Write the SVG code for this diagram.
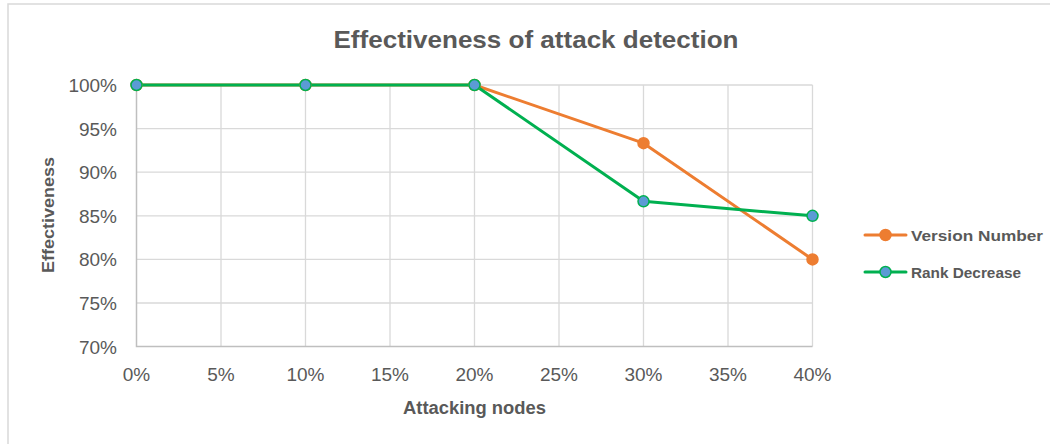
<svg xmlns="http://www.w3.org/2000/svg" width="1050" height="444" viewBox="0 0 1050 444">
  <style>
    .grid { stroke: #d9d9d9; stroke-width: 1.3; fill: none; }
    .axis { stroke: #bfbfbf; stroke-width: 1.5; fill: none; }
    .tick { font-family: "Liberation Sans", Arial, sans-serif; font-size: 19px; fill: #595959; }
    .ytick { text-anchor: end; }
    .xtick { text-anchor: middle; }
    .title { font-family: "Liberation Sans", Arial, sans-serif; font-weight: bold; fill: #595959; }
    .legend { font-family: "Liberation Sans", Arial, sans-serif; font-weight: bold; font-size: 15px; fill: #595959; }
    .s1 { stroke: #ed7d31; stroke-width: 3; fill: none; stroke-linejoin: round; stroke-linecap: round; }
    .s2 { stroke: #00b050; stroke-width: 3; fill: none; stroke-linejoin: round; stroke-linecap: round; }
    .m1 { fill: #ed7d31; stroke: #ed7d31; stroke-width: 1.5; }
    .m2 { fill: #5b9bd5; stroke: #00b050; stroke-width: 1.5; }
  </style>

  <!-- chart area -->
  <rect x="0" y="0" width="1050" height="444" fill="#ffffff"/>
  <rect x="8" y="4" width="1100" height="500" fill="none" stroke="#d9d9d9" stroke-width="1.5"/>

  <!-- title -->
  <text class="title" x="536" y="48" font-size="24" text-anchor="middle" textLength="405" lengthAdjust="spacingAndGlyphs">Effectiveness of attack detection</text>

  <!-- gridlines -->
  <g id="gridlines">
    <path class="grid" d="M136.5 85H812.5M136.5 128.6H812.5M136.5 172.2H812.5M136.5 215.8H812.5M136.5 259.4H812.5M136.5 303H812.5"/>
    <path class="grid" d="M221 85V346.6M305.5 85V346.6M390 85V346.6M474.5 85V346.6M559 85V346.6M643.5 85V346.6M728 85V346.6M812.5 85V346.6"/>
  </g>

  <!-- axes -->
  <g id="axes">
    <path class="axis" d="M136.5 85V346.6H812.5"/>
  </g>

  <!-- y tick labels -->
  <g id="y-labels" class="tick ytick">
    <text x="117" y="92">100%</text>
    <text x="117" y="135.6">95%</text>
    <text x="117" y="179.2">90%</text>
    <text x="117" y="222.8">85%</text>
    <text x="117" y="266.4">80%</text>
    <text x="117" y="310">75%</text>
    <text x="117" y="353.6">70%</text>
  </g>

  <!-- x tick labels -->
  <g id="x-labels" class="tick xtick">
    <text x="136.5" y="381">0%</text>
    <text x="221" y="381">5%</text>
    <text x="305.5" y="381">10%</text>
    <text x="390" y="381">15%</text>
    <text x="474.5" y="381">20%</text>
    <text x="559" y="381">25%</text>
    <text x="643.5" y="381">30%</text>
    <text x="728" y="381">35%</text>
    <text x="812.5" y="381">40%</text>
  </g>

  <!-- axis titles -->
  <text class="title" x="474.5" y="414" font-size="18" text-anchor="middle" textLength="143" lengthAdjust="spacingAndGlyphs">Attacking nodes</text>
  <text class="title" transform="translate(54 215) rotate(-90)" font-size="17" text-anchor="middle" textLength="116" lengthAdjust="spacingAndGlyphs">Effectiveness</text>

  <!-- data series -->
  <g id="connectors">
    <polyline id="version-number-line" class="s1" points="136.5,85 305.5,85 474.5,85 643.5,143.2 812.5,259.4"/>
    <polyline id="rank-decrease-line" class="s2" points="136.5,85 305.5,85 474.5,85 643.5,201.3 812.5,215.8"/>
  </g>

  <g id="version-number-points">
    <circle class="m1" cx="136.5" cy="85" r="5.5"/>
    <circle class="m1" cx="305.5" cy="85" r="5.5"/>
    <circle class="m1" cx="474.5" cy="85" r="5.5"/>
    <circle class="m1" cx="643.5" cy="143.2" r="5.5"/>
    <circle class="m1" cx="812.5" cy="259.4" r="5.5"/>
  </g>
  <g id="rank-decrease-points">
    <circle class="m2" cx="136.5" cy="85" r="5.5"/>
    <circle class="m2" cx="305.5" cy="85" r="5.5"/>
    <circle class="m2" cx="474.5" cy="85" r="5.5"/>
    <circle class="m2" cx="643.5" cy="201.3" r="5.5"/>
    <circle class="m2" cx="812.5" cy="215.8" r="5.5"/>
  </g>

  <!-- legend -->
  <g id="legend-version-number">
    <line class="s1" x1="865" y1="235" x2="906" y2="235" stroke-linecap="butt"/>
    <circle class="m1" cx="885.5" cy="235" r="5.5"/>
    <text class="legend" x="911" y="241" textLength="132" lengthAdjust="spacingAndGlyphs">Version Number</text>
  </g>
  <g id="legend-rank-decrease">
    <line class="s2" x1="865" y1="272" x2="906" y2="272" stroke-linecap="butt"/>
    <circle class="m2" cx="885.5" cy="272" r="5.5"/>
    <text class="legend" x="911" y="277.5" textLength="110" lengthAdjust="spacingAndGlyphs">Rank Decrease</text>
  </g>
</svg>
